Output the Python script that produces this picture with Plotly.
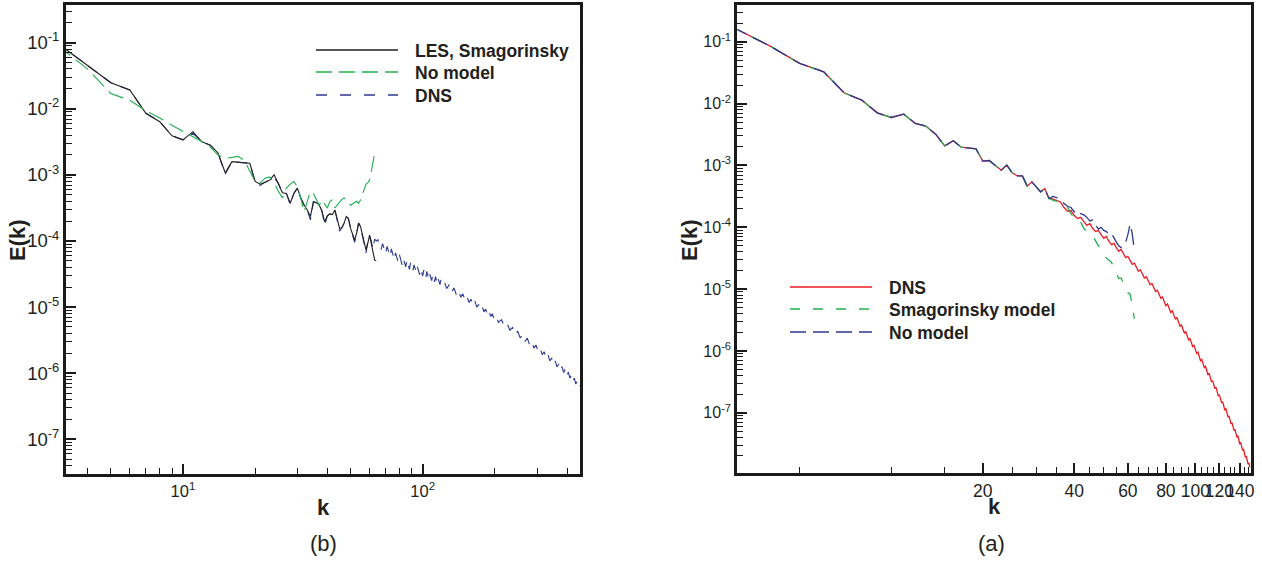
import plotly.graph_objects as go

# ---------------- panel (b): LES / no model / DNS ----------------
b_les_k = list(range(3, 65))
b_les_log10E = [
    -1.01, -1.34, -1.605, -1.716, -2.068, -2.195, -2.41, -2.47, -2.346, -2.50,
    -2.55, -2.67, -2.967, -2.80, -2.81, -2.815, -2.825, -3.10, -3.14, -3.11,
    -3.08, -3.00, -3.127, -3.27, -3.28, -3.43, -3.28, -3.20, -3.35, -3.455,
    -3.53, -3.63, -3.405, -3.42, -3.455, -3.55, -3.71, -3.62, -3.59, -3.60,
    -3.53, -3.68, -3.81, -3.80, -3.73, -3.63, -3.66, -3.81, -3.91, -3.985,
    -3.88, -3.73, -3.78, -3.91, -4.035, -4.14, -4.035, -3.91, -4.035, -4.19,
    -4.29, -4.30,
]

b_nomodel_k = list(range(3, 64))
b_nomodel_log10E = [
    -1.04, -1.40, -1.77, -1.87, -2.03, -2.14, -2.25, -2.34, -2.42, -2.50,
    -2.58, -2.70, -2.75, -2.74, -2.72, -2.78, -2.95, -3.10, -3.12, -3.05,
    -3.03, -3.12, -3.25, -3.35, -3.20, -3.14, -3.10, -3.18, -3.35, -3.56,
    -3.40, -3.25, -3.28, -3.38, -3.46, -3.38, -3.44, -3.50, -3.40, -3.38,
    -3.50, -3.45, -3.40, -3.37, -3.35, -3.38, -3.42, -3.46, -3.44, -3.42,
    -3.40, -3.43, -3.38, -3.30, -3.22, -3.14, -3.12, -3.08, -2.95, -2.80,
    -2.67,
]

b_dns_k = list(range(3, 121)) + list(range(123, 202, 3)) + list(range(207, 454, 6))
b_dns_log10E = [
    # k = 3 .. 64
    -1.01, -1.34, -1.605, -1.716, -2.068, -2.195, -2.41, -2.47, -2.37, -2.50,
    -2.55, -2.67, -2.99, -2.80, -2.81, -2.815, -2.825, -3.12, -3.16, -3.11,
    -3.08, -3.04, -3.127, -3.27, -3.28, -3.45, -3.28, -3.20, -3.35, -3.455,
    -3.53, -3.68, -3.405, -3.42, -3.455, -3.55, -3.76, -3.62, -3.59, -3.60,
    -3.53, -3.70, -3.85, -3.80, -3.73, -3.63, -3.66, -3.81, -3.91, -4.02,
    -3.88, -3.73, -3.78, -3.93, -4.08, -4.18, -4.00, -3.92, -4.00, -4.12,
    -3.97, -4.00,
    # k = 65 .. 120
    -3.98, -4.07, -4.13, -4.04, -4.11, -4.19, -4.08, -4.18, -4.23, -4.12,
    -4.21, -4.28, -4.18, -4.26, -4.32, -4.21, -4.29, -4.36, -4.27, -4.35,
    -4.39, -4.29, -4.37, -4.43, -4.33, -4.40, -4.45, -4.36, -4.44, -4.48,
    -4.39, -4.46, -4.51, -4.42, -4.49, -4.53, -4.44, -4.51, -4.56, -4.46,
    -4.53, -4.58, -4.50, -4.55, -4.60, -4.51, -4.58, -4.62, -4.54, -4.60,
    -4.64, -4.57, -4.62, -4.66, -4.59, -4.65,
    # k = 123 .. 201 (every 3)
    -4.62, -4.72, -4.66, -4.77, -4.71, -4.81, -4.75, -4.85, -4.80, -4.89,
    -4.84, -4.93, -4.88, -4.97, -4.91, -5.00, -4.96, -5.03, -4.99, -5.07,
    -5.03, -5.11, -5.06, -5.14, -5.10, -5.17, -5.13,
    # k = 207 .. 453 (every 6)
    -5.23, -5.19, -5.29, -5.25, -5.35, -5.31, -5.41, -5.365, -5.465, -5.42,
    -5.52, -5.47, -5.57, -5.525, -5.62, -5.575, -5.67, -5.625, -5.72, -5.675,
    -5.77, -5.72, -5.815, -5.77, -5.865, -5.815, -5.905, -5.86, -5.95, -5.90,
    -5.99, -5.94, -6.035, -5.985, -6.075, -6.03, -6.12, -6.075, -6.165, -6.12,
    -6.21, -6.19,
]

# ---------------- panel (a): DNS / Smagorinsky / no model ----------------
a_dns_k = list(range(3, 152))
a_dns_log10E = [
    -0.76, -1.07, -1.35, -1.485, -1.825, -1.943, -2.149, -2.224, -2.17, -2.32,
    -2.364, -2.494, -2.683, -2.60, -2.704, -2.715, -2.73, -2.93, -2.92, -3.00,
    -3.076, -2.995, -3.12, -3.17, -3.17, -3.335, -3.265, -3.346, -3.427, -3.373,
    -3.534, -3.54, -3.56,
    -3.59, -3.68, -3.74, -3.73, -3.81, -3.86, -3.84, -3.91, -3.97, -3.94,
    -4.02, -4.07, -4.05, -4.12, -4.18, -4.15, -4.23, -4.28, -4.26, -4.33,
    -4.39, -4.36, -4.44, -4.49, -4.47, -4.55, -4.60, -4.58, -4.65, -4.71,
    -4.69, -4.76, -4.82, -4.80, -4.88, -4.93, -4.91, -4.99, -5.04, -5.02,
    -5.10, -5.15, -5.13, -5.21, -5.27, -5.24, -5.32, -5.38, -5.35, -5.43,
    -5.49, -5.46, -5.54, -5.60, -5.58, -5.65, -5.71, -5.69, -5.76, -5.82,
    -5.80, -5.87, -5.93, -5.91, -5.99, -6.04, -6.02, -6.10, -6.16, -6.14,
    -6.21, -6.27, -6.25, -6.33, -6.39, -6.36, -6.44, -6.50, -6.48, -6.56,
    -6.61, -6.59, -6.67, -6.73, -6.71, -6.78, -6.84, -6.82, -6.90, -6.96,
    -6.93, -7.01, -7.07, -7.05, -7.13, -7.18, -7.16, -7.23, -7.29, -7.27,
    -7.34, -7.40, -7.37, -7.45, -7.51, -7.48, -7.56, -7.61, -7.59, -7.67,
    -7.72, -7.70, -7.77, -7.83, -7.81, -7.88,
]

a_smag_k = list(range(3, 64))
a_smag_log10E = [
    -0.76, -1.07, -1.35, -1.485, -1.825, -1.943, -2.149, -2.224, -2.17, -2.32,
    -2.364, -2.494, -2.683, -2.60, -2.704, -2.715, -2.73, -2.93, -2.92, -3.00,
    -3.076, -2.995, -3.12, -3.17, -3.17, -3.335, -3.265, -3.346, -3.427, -3.373,
    -3.534,
    -3.56, -3.58, -3.62, -3.66, -3.68, -3.78, -3.85, -3.93, -3.92, -4.02,
    -4.07, -4.08, -4.14, -4.22, -4.30, -4.34, -4.42, -4.50, -4.53, -4.57,
    -4.66, -4.75, -4.83, -4.82, -4.90, -5.00, -5.06, -5.08, -5.25, -5.48,
]

a_nomodel_k = list(range(3, 64))
a_nomodel_log10E = [
    -0.76, -1.07, -1.35, -1.485, -1.825, -1.943, -2.149, -2.224, -2.17, -2.32,
    -2.364, -2.494, -2.683, -2.60, -2.704, -2.715, -2.73, -2.93, -2.92, -3.00,
    -3.076, -2.995, -3.12, -3.17, -3.17, -3.335, -3.265, -3.346, -3.427, -3.373,
    -3.534,
    -3.50, -3.52, -3.57, -3.61, -3.66, -3.68, -3.75, -3.72, -3.78, -3.80,
    -3.84, -3.90, -3.88, -3.96, -4.03, -4.00, -4.05, -4.07, -4.12, -4.10,
    -4.16, -4.24, -4.30, -4.33, -4.30, -4.24, -4.12, -3.95, -4.10, -4.37,
]

# axis tick labels
y_tick_exponents = [-7, -6, -5, -4, -3, -2, -1]
b_x_tick_exponents = [1, 2]
a_x_tick_values = [20, 40, 60, 80, 100, 120, 140]

# ---------------- styling ----------------
FONT = "Liberation Sans, Arial, sans-serif"
BLACK = "#231f20"
GREEN = "#1fae4f"
BLUE = "#2b3990"
RED = "#ed1c24"
AXIS = "#1a1a1a"
W, H = 1262, 562


def E(vals):
    return [10 ** v for v in vals]


def px_x(p):
    return p / W


def px_y(p):
    return 1 - p / H


def log_minor(lo_exp, hi_exp):
    vals = []
    for e in range(lo_exp, hi_exp + 1):
        for m in range(2, 10):
            vals.append(m * 10.0 ** e)
    return vals


fig = go.Figure()

# panel (b)
fig.add_trace(go.Scatter(x=b_dns_k, y=E(b_dns_log10E), mode="lines",
                         line=dict(color=BLUE, width=1.1, dash="11px,8px"),
                         xaxis="x", yaxis="y", showlegend=False))
fig.add_trace(go.Scatter(x=b_les_k, y=E(b_les_log10E), mode="lines",
                         line=dict(color=BLACK, width=1.1),
                         xaxis="x", yaxis="y", showlegend=False))
fig.add_trace(go.Scatter(x=b_nomodel_k, y=E(b_nomodel_log10E), mode="lines",
                         line=dict(color=GREEN, width=1.1, dash="16px,7px"),
                         xaxis="x", yaxis="y", showlegend=False))

# panel (a)
fig.add_trace(go.Scatter(x=a_dns_k, y=E(a_dns_log10E), mode="lines",
                         line=dict(color=RED, width=1.3),
                         xaxis="x2", yaxis="y2", showlegend=False))
fig.add_trace(go.Scatter(x=a_smag_k, y=E(a_smag_log10E), mode="lines",
                         line=dict(color=GREEN, width=1.3, dash="10px,12px"),
                         xaxis="x2", yaxis="y2", showlegend=False))
fig.add_trace(go.Scatter(x=a_nomodel_k, y=E(a_nomodel_log10E), mode="lines",
                         line=dict(color=BLUE, width=1.3, dash="16px,7px"),
                         xaxis="x2", yaxis="y2", showlegend=False))

axis_common = dict(
    type="log", showline=True, linecolor=AXIS, linewidth=3, mirror=True,
    ticks="inside", ticklen=10, tickwidth=2, tickcolor=AXIS,
    showgrid=False, zeroline=False, automargin=False, tickmode="array",
    tickangle=0,
)

y_tickvals = [10.0 ** e for e in y_tick_exponents]
y_ticktext = ["10<sup>%d</sup>" % e for e in y_tick_exponents]

fig.update_layout(
    width=W, height=H,
    margin=dict(l=0, r=0, t=0, b=0),
    paper_bgcolor="white", plot_bgcolor="white",
    font=dict(family=FONT, color=BLACK, size=16),
    xaxis=dict(axis_common,
               domain=[px_x(66), px_x(580)],
               range=[0.512, 2.656], anchor="y",
               tickvals=[10.0 ** e for e in b_x_tick_exponents],
               ticktext=["10<sup>%d</sup>" % e for e in b_x_tick_exponents],
               tickfont=dict(size=16.5, family=FONT, color=BLACK),
               minor=dict(ticks="inside", ticklen=6, tickwidth=1, tickcolor=AXIS,
                          tickvals=[4, 5, 6, 7, 8, 9, 20, 30, 40, 50, 60, 70, 80, 90,
                                    200, 300, 400], showgrid=False)),
    yaxis=dict(axis_common,
               domain=[px_y(474), px_y(5)],
               range=[-7.525, -0.43], anchor="x",
               tickvals=y_tickvals, ticktext=y_ticktext,
               tickfont=dict(size=18.5, family=FONT, color=BLACK),
               minor=dict(ticks="inside", ticklen=6, tickwidth=1, tickcolor=AXIS,
                          tickvals=log_minor(-8, -1), showgrid=False)),
    xaxis2=dict(axis_common,
                domain=[px_x(737.3), px_x(1251)],
                range=[0.494, 2.183], anchor="y2",
                tickvals=a_x_tick_values,
                ticktext=[str(v) for v in a_x_tick_values],
                tickfont=dict(size=17.5, family=FONT, color=BLACK),
                minor=dict(ticks="inside", ticklen=6, tickwidth=1, tickcolor=AXIS,
                           tickvals=[v for v in range(5, 155, 5) if v % 20 != 0],
                           showgrid=False)),
    yaxis2=dict(axis_common,
                domain=[px_y(472.7), px_y(4.7)],
                range=[-7.97, -0.40], anchor="x2",
                tickvals=y_tickvals, ticktext=y_ticktext,
                tickfont=dict(size=16, family=FONT, color=BLACK),
                minor=dict(ticks="inside", ticklen=6, tickwidth=1, tickcolor=AXIS,
                           tickvals=log_minor(-8, -1), showgrid=False)),
)

annotations = []
shapes = []


def label(x, y, text, size, bold=False, angle=0, xanchor="center"):
    annotations.append(dict(
        x=px_x(x), y=px_y(y), xref="paper", yref="paper", text=text,
        showarrow=False, textangle=angle, xanchor=xanchor, yanchor="middle",
        font=dict(family=FONT, size=size, color=BLACK,
                  weight="bold" if bold else "normal")))


# axis titles and panel captions
label(18, 240, "E(k)", 22, bold=True, angle=-90)
label(690, 240, "E(k)", 22, bold=True, angle=-90)
label(323, 507, "k", 22, bold=True)
label(994, 506, "k", 22, bold=True)
label(323, 543, "(b)", 22)
label(991, 543, "(a)", 22)

# legend entries: (x0, x1, y, text, color, dash)
legend_b = [
    (316, 398, 50, "LES, Smagorinsky", BLACK, "solid"),
    (316, 398, 72, "No model", GREEN, "16px,7px"),
    (316, 398, 95, "DNS", BLUE, "11px,13px"),
]
legend_a = [
    (790, 872, 287, "DNS", RED, "solid"),
    (790, 872, 309, "Smagorinsky model", GREEN, "10px,13px"),
    (790, 872, 332, "No model", BLUE, "16px,7px"),
]
for x0, x1, y, text, color, dash in legend_b + legend_a:
    shapes.append(dict(type="line", xref="paper", yref="paper", layer="above",
                       x0=px_x(x0), x1=px_x(x1), y0=px_y(y), y1=px_y(y),
                       line=dict(color=color, width=1.5, dash=dash)))
    label(x1 + 14.5, y + 1, text, 17.5, bold=True, xanchor="left")

fig.update_layout(annotations=annotations, shapes=shapes)

fig.write_html("out.html")
